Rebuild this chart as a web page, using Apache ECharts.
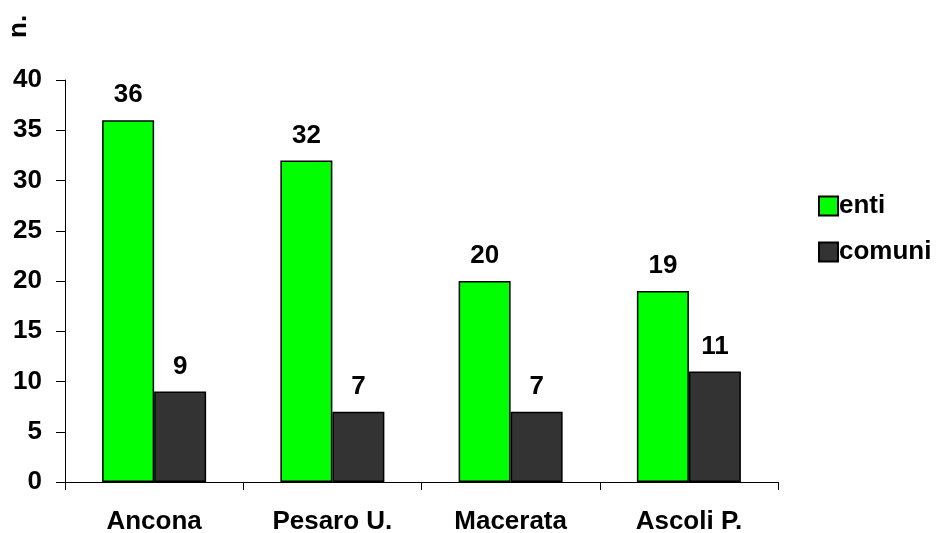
<!DOCTYPE html>
<html><head><meta charset="utf-8">
<script src="https://cdn.jsdelivr.net/npm/echarts@6/dist/echarts.min.js"></script>
<style>html,body{margin:0;padding:0;background:#fff}#c{width:942px;height:533px}</style>
</head><body><div id="c"></div>
<script>
const categories = ['Ancona', 'Pesaro U.', 'Macerata', 'Ascoli P.'];
const enti = [36, 32, 20, 19];
const comuni = [9, 7, 7, 11];
const yTicks = [0, 5, 10, 15, 20, 25, 30, 35, 40];

const font = '"Liberation Sans", Arial, sans-serif';
const fs = 26;
const chart = echarts.init(document.getElementById('c'));
const lbl = {show: true, position: 'top', distance: 12, color: '#000', fontFamily: font, fontWeight: 'bold', fontSize: fs};
chart.setOption({
  animation: false,
  grid: {left: 65, right: 164, top: 80, bottom: 51, containLabel: false, outerBoundsMode: 'none'},
  legend: {
    orient: 'vertical', left: 813, top: 188, itemWidth: 19, itemHeight: 19, itemGap: 20,
    textStyle: {fontFamily: font, fontWeight: 'bold', fontSize: fs, color: '#000', padding: [0,0,0,-4]},
    data: [{name: 'enti', icon: 'rect'}, {name: 'comuni', icon: 'rect'}]
  },
  graphic: [{type: 'text', x: 32, y: 38, rotation: Math.PI / 2,
    style: {text: 'n.', font: 'bold 26px "Liberation Sans", Arial, sans-serif', fill: '#000', align: 'left', verticalAlign: 'bottom'}}],
  xAxis: {
    type: 'category', data: categories,
    axisLine: {lineStyle: {color: '#000', width: 1}},
    axisTick: {show: true, length: 8, lineStyle: {color: '#000'}},
    axisLabel: {color: '#000', fontFamily: font, fontWeight: 'bold', fontSize: fs, margin: 27}
  },
  yAxis: {
    type: 'value', min: yTicks[0], max: yTicks[yTicks.length - 1], interval: 5,
    axisLine: {show: true, lineStyle: {color: '#000', width: 1}},
    axisTick: {show: true, length: 9, lineStyle: {color: '#000'}},
    splitLine: {show: false},
    axisLabel: {color: '#000', fontFamily: font, fontWeight: 'bold', fontSize: fs, margin: 23}
  },
  series: [
    {name: 'enti', type: 'bar', data: enti, barWidth: 52, barGap: '0%',
     itemStyle: {color: '#00ff00', borderColor: '#000', borderWidth: 1.5}, label: lbl},
    {name: 'comuni', type: 'bar', data: comuni, barWidth: 52,
     itemStyle: {color: '#333333', borderColor: '#000', borderWidth: 1.5}, label: lbl}
  ]
});
</script></body></html>
